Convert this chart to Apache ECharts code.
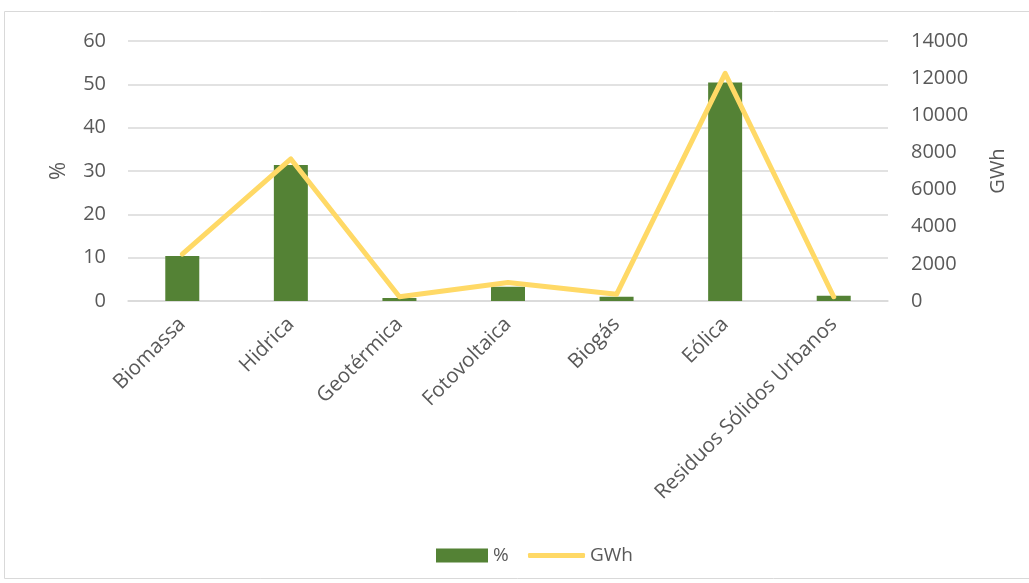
<!DOCTYPE html>
<html><head><meta charset="utf-8">
<script src="https://cdn.jsdelivr.net/npm/echarts@6/dist/echarts.min.js"></script>
<style>html,body{margin:0;padding:0;background:#fff}#c{width:1029px;height:583px}</style>
</head><body><div id="c"></div>
<script>
const categories = ['Biomassa','Hidrica','Geotérmica','Fotovoltaica','Biogás','Eólica','Residuos Sólidos Urbanos'];
const percentValues = [10.4, 31.4, 0.7, 3.3, 1.0, 50.4, 1.2];
const gwhValues = [2530, 7650, 230, 1000, 360, 12260, 230];
const leftTicks = {min:0, max:60, interval:10};
const rightTicks = {min:0, max:14000, interval:2000};

const chart = echarts.init(document.getElementById('c'));
const font = '"Open Sans", "Liberation Sans", sans-serif';
const grey = '#595959';
chart.setOption({
  animation:false,
  textStyle:{fontFamily:font},
  graphic:[{type:'rect',shape:{x:4.5,y:11.5,width:1030,height:567},style:{fill:'none',stroke:'#d9d9d9',lineWidth:1},silent:true}],
  grid:{left:128,right:141,top:41,bottom:282},
  legend:[
    {left:431,top:541,itemWidth:52,itemHeight:14,icon:'rect',
     textStyle:{color:grey,fontSize:19,fontFamily:font},data:['%']},
    {left:523,top:541,itemWidth:57,itemHeight:5,icon:'roundRect',
     textStyle:{color:grey,fontSize:19,fontFamily:font},data:['GWh']}
  ],
  xAxis:{type:'category',data:categories,
    axisLine:{lineStyle:{color:'#d9d9d9',width:1.5}},axisTick:{show:false},
    axisLabel:{rotate:45,color:grey,fontSize:20.5,fontFamily:font,interval:0,margin:20}},
  yAxis:[
    {type:'value',min:leftTicks.min,max:leftTicks.max,interval:leftTicks.interval,name:'%',
     nameLocation:'middle',nameGap:58,nameRotate:90,
     nameTextStyle:{color:grey,fontSize:22,fontFamily:font},
     axisLabel:{color:grey,fontSize:20,fontFamily:font,margin:22},
     splitLine:{lineStyle:{color:'#d9d9d9',width:1.5}},axisLine:{show:false},axisTick:{show:false}},
    {type:'value',min:rightTicks.min,max:rightTicks.max,interval:rightTicks.interval,name:'GWh',
     nameLocation:'middle',nameGap:100,nameRotate:90,
     nameTextStyle:{color:grey,fontSize:20,fontFamily:font},
     axisLabel:{color:grey,fontSize:20,fontFamily:font,margin:23,formatter:v=>String(v)},
     splitLine:{show:false},axisLine:{show:false},axisTick:{show:false}}
  ],
  series:[
    {name:'%',type:'bar',data:percentValues,barWidth:34,yAxisIndex:0,itemStyle:{color:'#548235'}},
    {name:'GWh',type:'line',data:gwhValues,yAxisIndex:1,symbol:'none',
     lineStyle:{color:'#FFD966',width:5,cap:'round',join:'round'},itemStyle:{color:'#FFD966'}}
  ]
});
</script></body></html>
